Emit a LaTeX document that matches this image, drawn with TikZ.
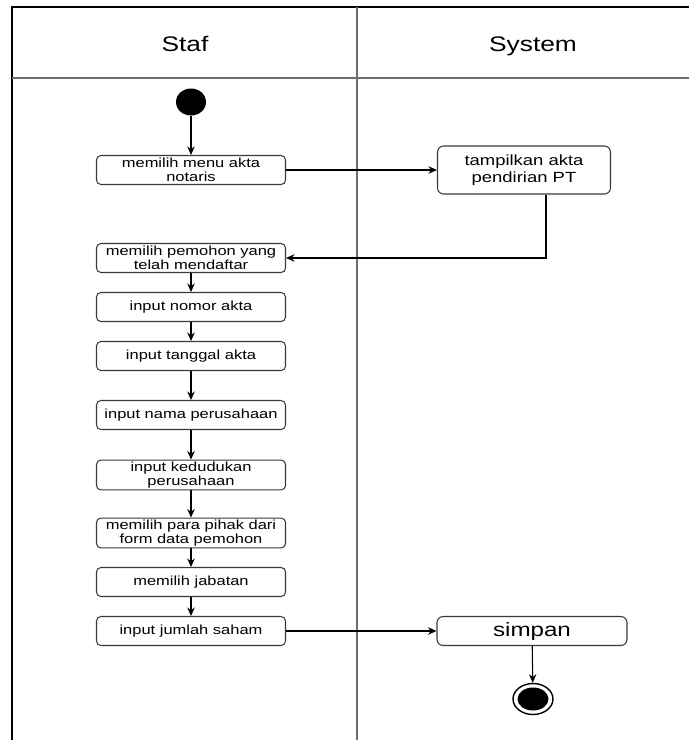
\documentclass[tikz,border=0pt]{standalone}
\usepackage{fontspec}
\setmainfont{Liberation Sans}
\newfontfamily\widesans[FakeStretch=1.25]{Liberation Sans}
\usetikzlibrary{arrows.meta,positioning,shapes.geometric}
\definecolor{laneGrey}{HTML}{6E6E6E}
\definecolor{boxLine}{HTML}{3A3A3A}

\begin{document}
\begin{tikzpicture}[
      act/.style={draw=boxLine,fill=white,rounded corners=2.5pt,line width=0.6pt,
                  minimum width=3.78cm,minimum height=0.58cm,align=center,inner sep=1pt,
                  font=\widesans\fontsize{7.5}{8}\selectfont},
      sysact/.style={act,rounded corners=3.5pt,font=\widesans\fontsize{8.4}{9.8}\selectfont},
      arr/.style={-{Stealth[length=1.7mm,width=1.5mm]},draw=black,line width=0.6pt},
      lane/.style={draw=laneGrey,line width=1.1pt},
      head/.style={anchor=base,font=\widesans\fontsize{12}{13}\selectfont}
    ]
    \useasboundingbox (0,0) rectangle (13.78,-14.8);

    % swimlanes: no right or bottom border
    \draw[black,line width=1.1pt] (0.24,-14.8) -- (0.24,-0.14) -- (13.78,-0.14);
    \draw[lane] (0.24,-1.56) -- (13.78,-1.56);
    \draw[lane] (7.14,-0.14) -- (7.14,-14.8);
    \node[head] (staf)   at ( 3.70,-1.02) {Staf};
    \node[head] (system) at (10.66,-1.02) {System};

    \node[ellipse,fill=black,minimum width=0.6cm,minimum height=0.54cm,inner sep=0pt] (start) at (3.82,-2.04) {};

    \node[act] (menu)      at ( 3.82, -3.40) {memilih menu akta\\notaris};
    \node[sysact,minimum width=3.46cm,minimum height=0.96cm] (tampil) at (10.48,-3.40) {tampilkan akta\\pendirian PT};
    \node[act] (pemohon)   at ( 3.82, -5.16) {memilih pemohon yang\\telah mendaftar};
    \node[act] (nomor)     at ( 3.82, -6.14) {input nomor akta};
    \node[act] (tanggal)   at ( 3.82, -7.12) {input tanggal akta};
    \node[act] (nama)      at ( 3.82, -8.30) {input nama perusahaan};
    \node[act] (kedudukan) at ( 3.82, -9.50) {input kedudukan\\perusahaan};
    \node[act] (pihak)     at ( 3.82,-10.66) {memilih para pihak dari\\form data pemohon};
    \node[act] (jabatan)   at ( 3.82,-11.64) {memilih jabatan};
    \node[act] (saham)     at ( 3.82,-12.62) {input jumlah saham};
    \node[sysact,minimum width=3.80cm,font=\widesans\fontsize{11}{12}\selectfont] (simpan) at (10.64,-12.62) {simpan};

    \node[ellipse,draw=black,line width=0.8pt,fill=white,minimum width=0.8cm,minimum height=0.62cm,inner sep=0pt] (end) at (10.66,-13.98) {};
    \node[ellipse,fill=black,minimum width=0.62cm,minimum height=0.46cm,inner sep=0pt] (endin) at (end.center) {};

    \draw[arr] (start) -- (menu);
    \draw[arr] (menu) -- (tampil);
    \draw[arr] ([xshift=0.44cm]tampil.south) |- (pemohon.east);
    \foreach \a/\b in {pemohon/nomor,nomor/tanggal,tanggal/nama,nama/kedudukan,
                       kedudukan/pihak,pihak/jabatan,jabatan/saham}
      \draw[arr] (\a) -- (\b);
    \draw[arr] (saham) -- (simpan);
    \draw[arr] (simpan) -- (end);
  \end{tikzpicture}
\end{document}
